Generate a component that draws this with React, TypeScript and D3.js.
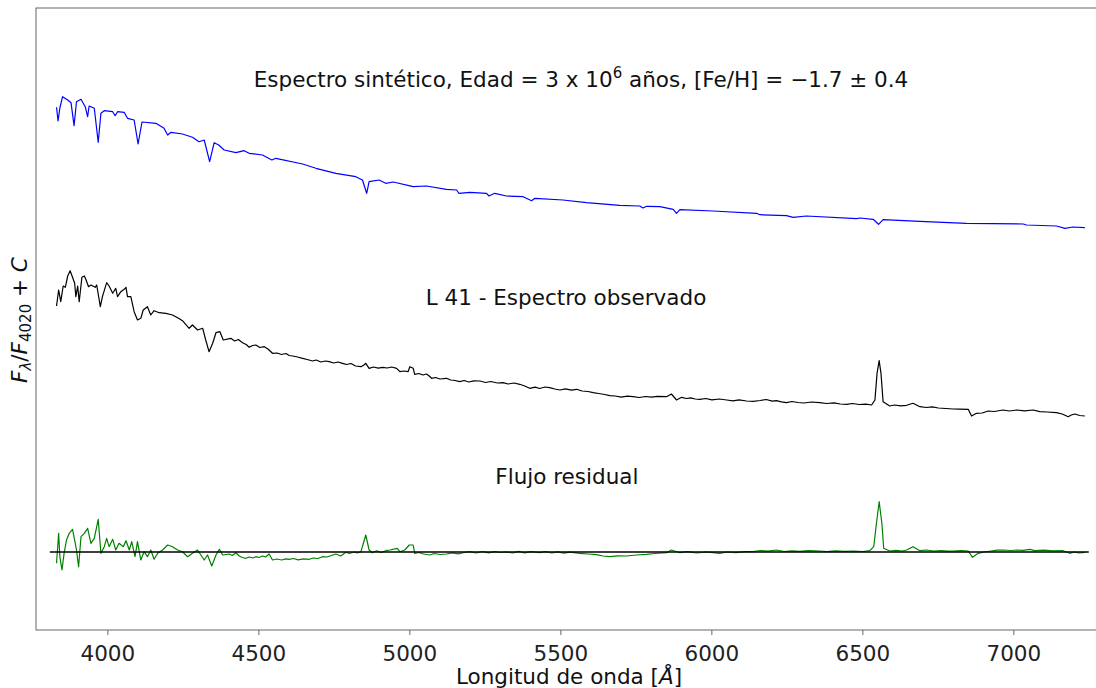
import * as d3 from "d3";

// wavelength (Angstrom) and flux + offset
const synthWave = [3830, 3835, 3841, 3850, 3867, 3878, 3888, 3896, 3911, 3925, 3933, 3938, 3955, 3968, 3977, 3988, 4016, 4024, 4032, 4054, 4065, 4087, 4100, 4113, 4159, 4186, 4198, 4209, 4247, 4280, 4302, 4319, 4337, 4352, 4367, 4385, 4424, 4451, 4468, 4512, 4543, 4556, 4645, 4689, 4755, 4821, 4843, 4857, 4865, 4898, 4920, 4945, 5011, 5055, 5121, 5155, 5162, 5199, 5254, 5262, 5281, 5320, 5375, 5403, 5414, 5507, 5585, 5695, 5761, 5772, 5784, 5828, 5872, 5883, 5894, 6004, 6148, 6159, 6247, 6269, 6313, 6479, 6490, 6534, 6552, 6567, 6689, 6843, 7031, 7042, 7141, 7169, 7196, 7235];
const synthFlux = [4.447, 4.31, 4.44, 4.553, 4.52, 4.493, 4.263, 4.503, 4.527, 4.453, 4.353, 4.46, 4.437, 4.097, 4.387, 4.413, 4.403, 4.363, 4.403, 4.397, 4.337, 4.32, 4.08, 4.3, 4.287, 4.237, 4.17, 4.197, 4.18, 4.147, 4.103, 4.12, 3.903, 4.093, 4.07, 4.02, 3.993, 4.013, 3.987, 3.97, 3.92, 3.937, 3.88, 3.837, 3.787, 3.753, 3.72, 3.587, 3.703, 3.72, 3.687, 3.7, 3.653, 3.66, 3.627, 3.62, 3.587, 3.597, 3.587, 3.56, 3.587, 3.56, 3.553, 3.513, 3.537, 3.52, 3.493, 3.467, 3.46, 3.44, 3.457, 3.453, 3.427, 3.387, 3.423, 3.41, 3.387, 3.373, 3.363, 3.347, 3.36, 3.333, 3.34, 3.327, 3.277, 3.323, 3.307, 3.287, 3.28, 3.27, 3.26, 3.237, 3.25, 3.243];

const obsWave = [3830, 3837, 3844, 3852, 3859, 3867, 3875, 3883, 3890, 3894, 3900, 3905, 3914, 3922, 3927, 3936, 3944, 3958, 3963, 3975, 3982, 3996, 4004, 4016, 4026, 4032, 4043, 4054, 4060, 4065, 4076, 4087, 4098, 4109, 4117, 4131, 4142, 4153, 4170, 4192, 4214, 4234, 4247, 4269, 4280, 4297, 4314, 4324, 4335, 4347, 4358, 4371, 4382,
  4407, 4420, 4432, 4446, 4458, 4468, 4479, 4490, 4503, 4518, 4530, 4545, 4560, 4575, 4590, 4600, 4612, 4628, 4645, 4660, 4678, 4690, 4705, 4720, 4733, 4748, 4762, 4777, 4790, 4805, 4820, 4838, 4848, 4854, 4865, 4880, 4895, 4910, 4925, 4940, 4956, 4967, 4980, 4994, 5000, 5011, 5016, 5030, 5043, 5055, 5064, 5072, 5085, 5100, 5121, 5135, 5150, 5165, 5180, 5195, 5212, 5232, 5250, 5268, 5290, 5309, 5325, 5345, 5364, 5380, 5397, 5415, 5430, 5447, 5463, 5480, 5497, 5515, 5535, 5552, 5570, 5590, 5607, 5625, 5645, 5662, 5680, 5700, 5720, 5739, 5760, 5780, 5800, 5820, 5850, 5866, 5883, 5900, 5915, 5930, 5945, 5960, 5980, 6000, 6025, 6049, 6070, 6090, 6115, 6137, 6160, 6180, 6200, 6214, 6230, 6247, 6265, 6285, 6305, 6330, 6357, 6380, 6405, 6425, 6446, 6465, 6488, 6510, 6529, 6540, 6547, 6554, 6560, 6567, 6589, 6605, 6625, 6645, 6666, 6689, 6710, 6730, 6750, 6775, 6799, 6820, 6849, 6860, 6876, 6895, 6915, 6935, 6964, 6985, 7010, 7035, 7064, 7086, 7110, 7141, 7160, 7180, 7190, 7202, 7218, 7235];
const obsFlux = [2.46, 2.62, 2.503, 2.66, 2.647, 2.76, 2.813, 2.747, 2.687, 2.553, 2.66, 2.503, 2.747, 2.76, 2.727, 2.653, 2.67, 2.647, 2.67, 2.453, 2.553, 2.693, 2.66, 2.587, 2.637, 2.553, 2.603, 2.627, 2.647, 2.553, 2.553, 2.403, 2.32, 2.337, 2.42, 2.453, 2.37, 2.413, 2.393, 2.387, 2.37, 2.337, 2.313, 2.237, 2.27, 2.22, 2.237, 2.12, 2.003, 2.087, 2.193, 2.203, 2.12,
  2.137, 2.11, 2.125, 2.093, 2.075, 2.047, 2.065, 2.07, 2.045, 2.053, 2.03, 1.987, 1.99, 1.975, 1.985, 1.965, 1.96, 1.95, 1.937, 1.925, 1.91, 1.92, 1.9, 1.91, 1.903, 1.89, 1.9, 1.887, 1.875, 1.885, 1.86, 1.853, 1.87, 1.887, 1.837, 1.85, 1.838, 1.847, 1.84, 1.85, 1.837, 1.803, 1.81, 1.803, 1.853, 1.837, 1.777, 1.785, 1.77, 1.78, 1.76, 1.737, 1.745, 1.73, 1.737, 1.72, 1.715, 1.703, 1.715, 1.7, 1.712, 1.71, 1.695, 1.705, 1.69, 1.693, 1.68, 1.69, 1.677, 1.66, 1.637, 1.648, 1.635, 1.65, 1.643, 1.63, 1.62, 1.632, 1.618, 1.627, 1.61, 1.605, 1.593, 1.585, 1.575, 1.563, 1.56, 1.548, 1.558, 1.553, 1.545, 1.555, 1.548, 1.556, 1.553, 1.58, 1.52, 1.547, 1.535, 1.542, 1.53, 1.527, 1.535, 1.522, 1.53, 1.52, 1.512, 1.522, 1.51, 1.507, 1.515, 1.525, 1.508, 1.513, 1.502, 1.493, 1.505, 1.495, 1.49, 1.5, 1.493, 1.485, 1.492, 1.48, 1.477, 1.485, 1.475, 1.478, 1.47, 1.52, 1.787, 1.913, 1.787, 1.503, 1.46, 1.47, 1.462, 1.467, 1.487, 1.453, 1.445, 1.452, 1.44, 1.435, 1.43, 1.428, 1.427, 1.36, 1.387, 1.39, 1.41, 1.405, 1.42, 1.41, 1.42, 1.412, 1.42, 1.403, 1.4, 1.393, 1.38, 1.353, 1.37, 1.38, 1.365, 1.36];

const residWave = [3830, 3837, 3841, 3848, 3855, 3863, 3872, 3883, 3892, 3896, 3903, 3911, 3922, 3933, 3944, 3955, 3968, 3977, 3988, 3996, 4004, 4016, 4026, 4037, 4051, 4060, 4071, 4079, 4090, 4098, 4109, 4120, 4131, 4142, 4153, 4165, 4181, 4198, 4214, 4231, 4247, 4264, 4280, 4297, 4308, 4319, 4330, 4344, 4358, 4369, 4380,
  4402, 4412, 4424, 4435, 4445, 4457, 4468, 4480, 4490, 4500, 4512, 4522, 4534, 4545, 4560, 4575, 4590, 4600, 4615, 4630, 4648, 4667, 4680, 4695, 4711, 4725, 4740, 4755, 4771, 4788, 4800, 4815, 4826, 4838, 4854, 4865, 4876, 4890, 4905, 4920, 4934, 4958, 4967, 4983, 4998, 5011, 5016, 5030, 5045, 5066, 5080, 5100, 5121, 5140, 5160, 5180, 5199, 5220, 5240, 5260, 5280, 5300, 5320, 5340, 5360, 5380, 5400, 5430, 5450, 5470, 5490, 5510, 5530, 5563, 5590, 5618, 5640, 5662, 5690, 5717, 5750, 5784, 5810, 5850, 5866, 5894, 5920, 5950, 5980, 6004, 6026, 6050, 6080, 6110, 6137, 6160, 6185, 6214, 6240, 6265, 6290, 6320, 6357, 6380, 6410, 6440, 6470, 6500, 6523, 6536, 6545, 6554, 6563, 6569, 6589, 6610, 6630, 6645, 6666, 6689, 6710, 6735, 6760, 6780, 6799, 6825, 6849, 6863, 6882, 6900, 6925, 6945, 6964, 6990, 7010, 7030, 7053, 7069, 7100, 7130, 7163, 7185, 7200, 7215, 7235];
const residFlux = [-0.113, 0.187, -0.047, -0.18, -0.013, 0.12, 0.187, 0.227, 0.087, 0.02, -0.147, 0.153, 0.187, 0.237, 0.087, 0.137, 0.327, -0.013, 0.053, 0.137, 0.053, 0.127, 0.02, 0.087, 0.053, 0.113, 0.02, 0.103, -0.047, 0.103, -0.08, 0.003, -0.047, 0.02, -0.073, -0.013, 0.02, 0.07, 0.053, 0.02, 0.003, -0.047, -0.013, 0.02, -0.03, -0.08, -0.03, -0.14, -0.03, 0.027, -0.03,
  -0.02, -0.035, -0.007, -0.04, -0.055, -0.063, -0.05, -0.06, -0.047, -0.055, -0.04, -0.05, -0.02, -0.08, -0.07, -0.08, -0.068, -0.073, -0.065, -0.078, -0.068, -0.073, -0.06, -0.065, -0.047, -0.05, -0.035, -0.02, -0.04, -0.003, -0.015, 0, -0.01, 0.003, 0.17, 0.02, -0.007, 0.012, -0.005, 0.013, 0.02, 0.037, 0.003, 0.02, 0.07, 0.07, -0.013, -0.005, -0.02, -0.03, -0.015, -0.025, -0.02, -0.008, -0.018, -0.005, 0.003, -0.01, 0.005, -0.008, 0.004, -0.005, 0, -0.01, 0.006, -0.008, 0.004, -0.007, 0.003, -0.01, 0.002, -0.012, -0.002, -0.013, -0.02, -0.027, -0.04, -0.047, -0.038, -0.04, -0.03, -0.023, -0.015, -0.007, 0.02, -0.007, 0.003, -0.01, 0, -0.007, -0.013, 0, -0.006, 0.004, 0.003, 0.015, 0.008, 0.02, 0.005, 0.012, 0.006, 0.014, 0.01, 0.004, 0.012, 0.006, 0.01, 0.005, 0.013, 0.053, 0.287, 0.503, 0.287, 0.037, 0.01, 0.016, 0.01, 0.02, 0.053, 0.013, 0.02, 0.01, 0.015, 0.008, 0.01, 0.013, 0.01, -0.053, -0.013, 0, 0.01, 0.018, 0.02, 0.015, 0.02, 0.017, 0.027, 0.013, 0.018, 0.012, 0.013, -0.013, 0, -0.01, -0.003];

const zeroLine = [3808, 7248];
const xTicks = [4000, 4500, 5000, 5500, 6000, 6500, 7000];

const labels = [
  { text: "L 41 - Espectro observado", w: 5517, f: 2.47 },
  { text: "Flujo residual", w: 5520, f: 0.68 },
];

export default function App() {
  const width = 1096;
  const height = 688;
  const left = 36, top = 8, bottom = 630, right = 1096;

  const x = d3.scaleLinear().domain([3762, 7272]).range([left, right]);
  const y = d3.scaleLinear().domain([-0.78, 5.44]).range([bottom, top]);

  const line = d3
    .line<[number, number]>()
    .x((d) => x(d[0]))
    .y((d) => y(d[1]));

  const zip = (a: number[], b: number[]) => a.map((v, i) => [v, b[i]] as [number, number]);
  const font = "DejaVu Sans, sans-serif";
  const fs = 21.5;

  return (
    <svg
      width={width}
      height={height}
      style={{ position: "absolute", left: 0, top: 0, background: "#fff" }}
      fontFamily={font}
    >
      <rect x={left} y={top} width={right - left + 10} height={bottom - top} fill="none" stroke="#666" strokeWidth={1} />

      <path d={line(zip(synthWave, synthFlux)) || ""} fill="none" stroke="blue" strokeWidth={1.2} strokeLinejoin="round" />
      <path d={line(zip(obsWave, obsFlux)) || ""} fill="none" stroke="black" strokeWidth={1.2} strokeLinejoin="round" />
      <path d={line(zip(residWave, residFlux)) || ""} fill="none" stroke="green" strokeWidth={1.2} strokeLinejoin="round" />
      <line x1={x(zeroLine[0])} x2={x(zeroLine[1])} y1={y(0)} y2={y(0)} stroke="black" strokeWidth={1.4} />

      {xTicks.map((t) => (
        <g key={t} transform={`translate(${x(t)},${bottom})`}>
          <line y1={0} y2={5} stroke="#666" />
          <text y={31} textAnchor="middle" fontSize={fs} fill="#222">{t}</text>
        </g>
      ))}

      <text x={581} y={87} textAnchor="middle" fontSize={fs} fill="#111">
        Espectro sintético, Edad = 3 x 10
        <tspan dy={-9} fontSize={15}>6</tspan>
        <tspan dy={9}> años, [Fe/H] = −1.7 ± 0.4</tspan>
      </text>
      {labels.map((l) => (
        <text key={l.text} x={x(l.w)} y={y(l.f)} textAnchor="middle" fontSize={fs} fill="#111">{l.text}</text>
      ))}

      <text x={569} y={684} textAnchor="middle" fontSize={fs} fill="#111">
        Longitud de onda [<tspan fontStyle="italic">Å</tspan>]
      </text>

      <text transform="translate(27,320) rotate(-90)" textAnchor="middle" fontSize={fs} fill="#111">
        <tspan fontStyle="italic">F</tspan>
        <tspan fontStyle="italic" fontSize={15} dy={4}>λ</tspan>
        <tspan dy={-4}>/</tspan>
        <tspan fontStyle="italic">F</tspan>
        <tspan fontSize={15} dy={4}>4020</tspan>
        <tspan dy={-4}> + </tspan>
        <tspan fontStyle="italic">C</tspan>
      </text>
    </svg>
  );
}
